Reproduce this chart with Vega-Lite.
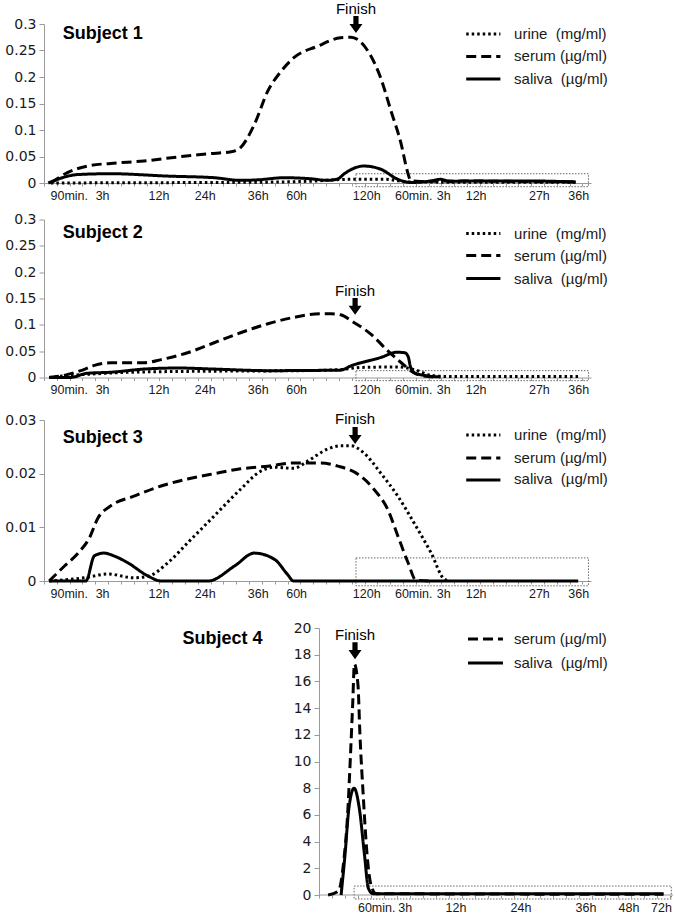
{
  "$schema": "https://vega.github.io/schema/vega-lite/v6.json",
  "padding": {"left": 4, "top": 1, "right": 0, "bottom": 0},
  "background": "white",
  "config": {
    "view": {"stroke": null},
    "axis": {"domainColor": "#9a9a9a", "tickColor": "#9a9a9a", "labelColor": "#1a1a1a", "grid": false, "labelFont": "Liberation Sans", "labelFontSize": 12.5, "title": null, "labelOverlap": false},
    "axisY": {"labelFont": "DejaVu Sans", "labelFontSize": 14, "tickSize": 5, "labelPadding": 3},
    "axisX": {"tickSize": 3, "labelPadding": 3, "labelAngle": 0, "labelFlush": false, "labelBound": false},
    "text": {"font": "Liberation Sans", "color": "#1a1a1a"},
    "rule": {"color": "black", "strokeWidth": 3}
  },
  "datasets": {
    "d": [
      {"p":"p1","s":"urine","t":0.8,"v":0},{"p":"p1","s":"urine","t":10,"v":0.0005},{"p":"p1","s":"urine","t":20,"v":0.001},{"p":"p1","s":"urine","t":28,"v":0.002},{"p":"p1","s":"urine","t":32,"v":0.004},{"p":"p1","s":"urine","t":34,"v":0.006},{"p":"p1","s":"urine","t":36,"v":0.007},{"p":"p1","s":"urine","t":40,"v":0.007},{"p":"p1","s":"urine","t":41.5,"v":0.004},{"p":"p1","s":"urine","t":42.5,"v":0.002},{"p":"p1","s":"urine","t":50,"v":0.0015},{"p":"p1","s":"urine","t":62.3,"v":0.0015},
      {"p":"p1","s":"serum","t":0.8,"v":0},{"p":"p1","s":"serum","t":2.8,"v":0.02},{"p":"p1","s":"serum","t":5.1,"v":0.032},{"p":"p1","s":"serum","t":7.8,"v":0.037},{"p":"p1","s":"serum","t":11.7,"v":0.0415},{"p":"p1","s":"serum","t":15.6,"v":0.049},{"p":"p1","s":"serum","t":19.2,"v":0.055},{"p":"p1","s":"serum","t":22.2,"v":0.06},{"p":"p1","s":"serum","t":22.8,"v":0.064},{"p":"p1","s":"serum","t":24.6,"v":0.11},{"p":"p1","s":"serum","t":26.2,"v":0.174},{"p":"p1","s":"serum","t":27.7,"v":0.21},{"p":"p1","s":"serum","t":29.2,"v":0.236},{"p":"p1","s":"serum","t":32,"v":0.258},{"p":"p1","s":"serum","t":34.7,"v":0.274},{"p":"p1","s":"serum","t":35.9,"v":0.275},{"p":"p1","s":"serum","t":37.9,"v":0.249},{"p":"p1","s":"serum","t":39.4,"v":0.198},{"p":"p1","s":"serum","t":40.6,"v":0.136},{"p":"p1","s":"serum","t":41.8,"v":0.073},{"p":"p1","s":"serum","t":42.5,"v":0.023},{"p":"p1","s":"serum","t":42.9,"v":0.005},{"p":"p1","s":"serum","t":44,"v":0.003},{"p":"p1","s":"serum","t":48,"v":0.004},{"p":"p1","s":"serum","t":55,"v":0.003},{"p":"p1","s":"serum","t":62.3,"v":0.002},
      {"p":"p1","s":"saliva","t":0.5,"v":0},{"p":"p1","s":"saliva","t":4,"v":0.016},{"p":"p1","s":"saliva","t":7.8,"v":0.0175},{"p":"p1","s":"saliva","t":14.5,"v":0.013},{"p":"p1","s":"saliva","t":19.9,"v":0.01},{"p":"p1","s":"saliva","t":23,"v":0.005},{"p":"p1","s":"saliva","t":25,"v":0.006},{"p":"p1","s":"saliva","t":28.1,"v":0.01},{"p":"p1","s":"saliva","t":31.2,"v":0.008},{"p":"p1","s":"saliva","t":33.2,"v":0.005},{"p":"p1","s":"saliva","t":34.4,"v":0.008},{"p":"p1","s":"saliva","t":35.1,"v":0.017},{"p":"p1","s":"saliva","t":37.4,"v":0.032},{"p":"p1","s":"saliva","t":39.4,"v":0.026},{"p":"p1","s":"saliva","t":41.4,"v":0.007},{"p":"p1","s":"saliva","t":42.9,"v":0.001},{"p":"p1","s":"saliva","t":45.3,"v":0.004},{"p":"p1","s":"saliva","t":46.4,"v":0.007},{"p":"p1","s":"saliva","t":47.5,"v":0.003},{"p":"p1","s":"saliva","t":50,"v":0.004},{"p":"p1","s":"saliva","t":56,"v":0.004},{"p":"p1","s":"saliva","t":62.2,"v":0.002},

      {"p":"p2","s":"urine","t":0.6,"v":0},{"p":"p2","s":"urine","t":3,"v":0.004},{"p":"p2","s":"urine","t":6,"v":0.007},{"p":"p2","s":"urine","t":10,"v":0.01},{"p":"p2","s":"urine","t":20,"v":0.012},{"p":"p2","s":"urine","t":30,"v":0.013},{"p":"p2","s":"urine","t":34.7,"v":0.015},{"p":"p2","s":"urine","t":37,"v":0.019},{"p":"p2","s":"urine","t":41.4,"v":0.02},{"p":"p2","s":"urine","t":43.7,"v":0.013},{"p":"p2","s":"urine","t":45.3,"v":0.004},{"p":"p2","s":"urine","t":47,"v":0.002},{"p":"p2","s":"urine","t":55,"v":0.002},{"p":"p2","s":"urine","t":62.5,"v":0.002},
      {"p":"p2","s":"serum","t":0.6,"v":0},{"p":"p2","s":"serum","t":2.6,"v":0.005},{"p":"p2","s":"serum","t":4.3,"v":0.013},{"p":"p2","s":"serum","t":5.9,"v":0.023},{"p":"p2","s":"serum","t":7.8,"v":0.028},{"p":"p2","s":"serum","t":11.7,"v":0.028},{"p":"p2","s":"serum","t":13.7,"v":0.034},{"p":"p2","s":"serum","t":16.8,"v":0.047},{"p":"p2","s":"serum","t":19.9,"v":0.066},{"p":"p2","s":"serum","t":23,"v":0.085},{"p":"p2","s":"serum","t":26.2,"v":0.102},{"p":"p2","s":"serum","t":29.2,"v":0.114},{"p":"p2","s":"serum","t":32.4,"v":0.121},{"p":"p2","s":"serum","t":33.6,"v":0.121},{"p":"p2","s":"serum","t":34.7,"v":0.119},{"p":"p2","s":"serum","t":36.3,"v":0.104},{"p":"p2","s":"serum","t":38.2,"v":0.083},{"p":"p2","s":"serum","t":40.2,"v":0.051},{"p":"p2","s":"serum","t":41.8,"v":0.028},{"p":"p2","s":"serum","t":42.9,"v":0.013},{"p":"p2","s":"serum","t":44.1,"v":0.004},{"p":"p2","s":"serum","t":45.6,"v":0.001},
      {"p":"p2","s":"saliva","t":0.6,"v":0},{"p":"p2","s":"saliva","t":3,"v":0},{"p":"p2","s":"saliva","t":3.5,"v":0.001},{"p":"p2","s":"saliva","t":5,"v":0.008},{"p":"p2","s":"saliva","t":7.8,"v":0.01},{"p":"p2","s":"saliva","t":11.7,"v":0.016},{"p":"p2","s":"saliva","t":15.7,"v":0.018},{"p":"p2","s":"saliva","t":19.9,"v":0.016},{"p":"p2","s":"saliva","t":26.2,"v":0.013},{"p":"p2","s":"saliva","t":34.7,"v":0.014},{"p":"p2","s":"saliva","t":35.9,"v":0.022},{"p":"p2","s":"saliva","t":39.4,"v":0.038},{"p":"p2","s":"saliva","t":41.3,"v":0.048},{"p":"p2","s":"saliva","t":42.2,"v":0.047},{"p":"p2","s":"saliva","t":42.6,"v":0.04},{"p":"p2","s":"saliva","t":42.9,"v":0.019},{"p":"p2","s":"saliva","t":43.3,"v":0.009},{"p":"p2","s":"saliva","t":44.5,"v":0.004},{"p":"p2","s":"saliva","t":46.4,"v":0.001},

      {"p":"p3","s":"urine","t":0.6,"v":0},{"p":"p3","s":"urine","t":4.7,"v":0.0006},{"p":"p3","s":"urine","t":7.5,"v":0.0013},{"p":"p3","s":"urine","t":10.5,"v":0.0006},{"p":"p3","s":"urine","t":12.2,"v":0.0009},{"p":"p3","s":"urine","t":14.5,"v":0.0034},{"p":"p3","s":"urine","t":16.8,"v":0.0071},{"p":"p3","s":"urine","t":19.9,"v":0.0121},{"p":"p3","s":"urine","t":23,"v":0.0171},{"p":"p3","s":"urine","t":25.4,"v":0.0205},{"p":"p3","s":"urine","t":26.9,"v":0.0212},{"p":"p3","s":"urine","t":29.2,"v":0.021},{"p":"p3","s":"urine","t":30.9,"v":0.0224},{"p":"p3","s":"urine","t":33.2,"v":0.0246},{"p":"p3","s":"urine","t":34.7,"v":0.0252},{"p":"p3","s":"urine","t":35.9,"v":0.0252},{"p":"p3","s":"urine","t":37.4,"v":0.0239},{"p":"p3","s":"urine","t":39.4,"v":0.0201},{"p":"p3","s":"urine","t":41.4,"v":0.0158},{"p":"p3","s":"urine","t":43.3,"v":0.0108},{"p":"p3","s":"urine","t":45.3,"v":0.0052},{"p":"p3","s":"urine","t":46.8,"v":0.0004},{"p":"p3","s":"urine","t":47.5,"v":0},
      {"p":"p3","s":"serum","t":0.6,"v":0},{"p":"p3","s":"serum","t":2.4,"v":0.0028},{"p":"p3","s":"serum","t":4,"v":0.0052},{"p":"p3","s":"serum","t":5.3,"v":0.008},{"p":"p3","s":"serum","t":6.3,"v":0.0117},{"p":"p3","s":"serum","t":7.8,"v":0.014},{"p":"p3","s":"serum","t":10.5,"v":0.0158},{"p":"p3","s":"serum","t":13.7,"v":0.0177},{"p":"p3","s":"serum","t":16.8,"v":0.019},{"p":"p3","s":"serum","t":19.9,"v":0.02},{"p":"p3","s":"serum","t":23,"v":0.0209},{"p":"p3","s":"serum","t":26.2,"v":0.0214},{"p":"p3","s":"serum","t":29.2,"v":0.022},{"p":"p3","s":"serum","t":32.4,"v":0.022},{"p":"p3","s":"serum","t":34.4,"v":0.0214},{"p":"p3","s":"serum","t":37,"v":0.0196},{"p":"p3","s":"serum","t":38.6,"v":0.0171},{"p":"p3","s":"serum","t":40.2,"v":0.0134},{"p":"p3","s":"serum","t":41.4,"v":0.0084},{"p":"p3","s":"serum","t":42.6,"v":0.0034},{"p":"p3","s":"serum","t":43.5,"v":0.0002},{"p":"p3","s":"serum","t":45,"v":0},
      {"p":"p3","s":"saliva","t":0.6,"v":0},{"p":"p3","s":"saliva","t":4.9,"v":0},{"p":"p3","s":"saliva","t":5.9,"v":0.0047},{"p":"p3","s":"saliva","t":7,"v":0.0052},{"p":"p3","s":"saliva","t":8.3,"v":0.0046},{"p":"p3","s":"saliva","t":9.8,"v":0.0034},{"p":"p3","s":"saliva","t":12.2,"v":0.0009},{"p":"p3","s":"saliva","t":13.7,"v":0},{"p":"p3","s":"saliva","t":19.2,"v":0},{"p":"p3","s":"saliva","t":22.3,"v":0.0028},{"p":"p3","s":"saliva","t":24.6,"v":0.0052},{"p":"p3","s":"saliva","t":27,"v":0.004},{"p":"p3","s":"saliva","t":28.5,"v":0.0012},{"p":"p3","s":"saliva","t":29.2,"v":0},{"p":"p3","s":"saliva","t":62.5,"v":0},

      {"p":"p4","s":"serum","t":0.7,"v":0},{"p":"p4","s":"serum","t":1.5,"v":0.3},{"p":"p4","s":"serum","t":1.9,"v":2.5},{"p":"p4","s":"serum","t":2.2,"v":6},{"p":"p4","s":"serum","t":2.4,"v":10},{"p":"p4","s":"serum","t":2.6,"v":14.5},{"p":"p4","s":"serum","t":2.72,"v":17.3},{"p":"p4","s":"serum","t":3.0,"v":15.7},{"p":"p4","s":"serum","t":3.15,"v":12},{"p":"p4","s":"serum","t":3.4,"v":7.5},{"p":"p4","s":"serum","t":3.7,"v":3},{"p":"p4","s":"serum","t":4.0,"v":0.75},{"p":"p4","s":"serum","t":4.4,"v":0.1},{"p":"p4","s":"serum","t":26.5,"v":0.05},
      {"p":"p4","s":"saliva","t":1.7,"v":0},{"p":"p4","s":"saliva","t":2.0,"v":3},{"p":"p4","s":"saliva","t":2.3,"v":6.5},{"p":"p4","s":"saliva","t":2.7,"v":8},{"p":"p4","s":"saliva","t":3.1,"v":6.5},{"p":"p4","s":"saliva","t":3.5,"v":3},{"p":"p4","s":"saliva","t":3.8,"v":0.5},{"p":"p4","s":"saliva","t":4.15,"v":0.1},{"p":"p4","s":"saliva","t":26.5,"v":0.1}
    ]
  },
  "resolve": {"scale": {"strokeDash": "independent"}},
  "spacing": 21,
  "vconcat": [
    {
      "spacing": 10.5,
      "resolve": {"scale": {"strokeDash": "independent"}},
      "vconcat": [
        {
          "width": 547, "height": 159,
          "layer": [
            {"data": {"values": [{}]}, "mark": {"type": "rect", "fill": null, "stroke": "#666", "strokeDash": [1.5, 1.5], "strokeWidth": 1},
             "encoding": {"x": {"datum": 36.5, "type": "quantitative", "scale": {"domain": [0, 64], "nice": false}, "axis": {"tickCount": 1000, "labelOverlap": false, "values": [0,1.5,3,4.5,6,7.5,9,10.5,12,13.5,15,16.5,18,19.5,21,22.5,24,25.5,27,28.5,30,31.5,33,34.5,36,37.5,39,40.5,42,43.5,45,46.5,48,49.5,51,52.5,54,55.5,57,58.5,60,61.5,63,2.9,6.8,13.4,18.8,25,29.5,37.7,43.2,46.7,50.5,57.9,62.5], "labelExpr": "indexof([2.9,6.8,13.4,18.8,25,29.5,37.7,43.2,46.7,50.5,57.9,62.5], datum.value) >= 0 ? ['90min.','3h','12h','24h','36h','60h','120h','60min.','3h','12h','27h','36h'][indexof([2.9,6.8,13.4,18.8,25,29.5,37.7,43.2,46.7,50.5,57.9,62.5], datum.value)] : ''", "tickOpacity": {"condition": {"test": "indexof([2.9,6.8,13.4,18.8,25,29.5,37.7,43.2,46.7,50.5,57.9,62.5], datum.value) >= 0", "value": 0}, "value": 1}}},
                          "x2": {"datum": 63.7},
                          "y": {"datum": 0.0175, "type": "quantitative", "scale": {"domain": [0, 0.3], "nice": false}, "axis": {"tickCount": 1000, "labelOverlap": false, "values": [0,0.05,0.1,0.15,0.2,0.25,0.3], "format": ".2~f"}},
                          "y2": {"datum": -0.007}}},
            {"data": {"name": "d"}, "transform": [{"filter": "datum.p == 'p1'"}],
             "mark": {"type": "line", "color": "black", "strokeWidth": 3, "interpolate": "monotone"},
             "encoding": {"x": {"field": "t", "type": "quantitative"}, "y": {"field": "v", "type": "quantitative"},
                          "strokeDash": {"field": "s", "type": "nominal", "legend": null, "scale": {"domain": ["urine", "serum", "saliva"], "range": [[2.5, 3], [10, 5], [1, 0]]}}}},
            {"data": {"values": [{}]}, "mark": {"type": "point", "shape": "M-0.4,-1.3L0.4,-1.3L0.4,-0.1L1,-0.1L0,1.3L-1,-0.1L-0.4,-0.1Z", "filled": true, "color": "black", "opacity": 1, "size": 169},
             "encoding": {"x": {"datum": 36.5, "type": "quantitative"}, "y": {"datum": 0.299, "type": "quantitative"}}},
            {"data": {"values": [{}]}, "mark": {"type": "text", "text": "Finish", "fontSize": 15, "baseline": "middle", "color": "black"},
             "encoding": {"x": {"datum": 36.5, "type": "quantitative"}, "y": {"datum": 0.329, "type": "quantitative"}}},
            {"data": {"values": [{}]}, "mark": {"type": "text", "text": "Subject 1", "fontSize": 18, "fontWeight": "bold", "align": "left", "baseline": "middle", "color": "black"},
             "encoding": {"x": {"datum": 2.2, "type": "quantitative"}, "y": {"datum": 0.281, "type": "quantitative"}}},
            {"data": {"values": [{}]}, "mark": {"type": "rule", "strokeDash": [2.5, 3]}, "encoding": {"x": {"datum": 49.4, "type": "quantitative"}, "x2": {"datum": 53.4}, "y": {"datum": 0.2811, "type": "quantitative"}}},
            {"data": {"values": [{}]}, "mark": {"type": "rule", "strokeDash": [10, 5]}, "encoding": {"x": {"datum": 49.4, "type": "quantitative"}, "x2": {"datum": 53.4}, "y": {"datum": 0.2387, "type": "quantitative"}}},
            {"data": {"values": [{}]}, "mark": {"type": "rule"}, "encoding": {"x": {"datum": 49.4, "type": "quantitative"}, "x2": {"datum": 53.4}, "y": {"datum": 0.1962, "type": "quantitative"}}},
            {"data": {"values": [{}]}, "mark": {"type": "text", "text": "urine\u00a0 (mg/ml)", "fontSize": 15, "align": "left", "baseline": "middle"}, "encoding": {"x": {"datum": 55.0, "type": "quantitative"}, "y": {"datum": 0.2811, "type": "quantitative"}}},
            {"data": {"values": [{}]}, "mark": {"type": "text", "text": "serum (µg/ml)", "fontSize": 15, "align": "left", "baseline": "middle"}, "encoding": {"x": {"datum": 55.0, "type": "quantitative"}, "y": {"datum": 0.2387, "type": "quantitative"}}},
            {"data": {"values": [{}]}, "mark": {"type": "text", "text": "saliva\u00a0 (µg/ml)", "fontSize": 15, "align": "left", "baseline": "middle"}, "encoding": {"x": {"datum": 55.0, "type": "quantitative"}, "y": {"datum": 0.1962, "type": "quantitative"}}}
          ]
        },
        {
          "spacing": 14.5,
          "resolve": {"scale": {"strokeDash": "independent"}},
          "vconcat": [
            {
              "width": 547, "height": 158,
              "layer": [
                {"data": {"values": [{}]}, "mark": {"type": "rect", "fill": null, "stroke": "#666", "strokeDash": [1.5, 1.5], "strokeWidth": 1},
                 "encoding": {"x": {"datum": 36.5, "type": "quantitative", "scale": {"domain": [0, 64], "nice": false}, "axis": {"tickCount": 1000, "labelOverlap": false, "values": [0,1.5,3,4.5,6,7.5,9,10.5,12,13.5,15,16.5,18,19.5,21,22.5,24,25.5,27,28.5,30,31.5,33,34.5,36,37.5,39,40.5,42,43.5,45,46.5,48,49.5,51,52.5,54,55.5,57,58.5,60,61.5,63,2.9,6.8,13.4,18.8,25,29.5,37.7,43.2,46.7,50.5,57.9,62.5], "labelExpr": "indexof([2.9,6.8,13.4,18.8,25,29.5,37.7,43.2,46.7,50.5,57.9,62.5], datum.value) >= 0 ? ['90min.','3h','12h','24h','36h','60h','120h','60min.','3h','12h','27h','36h'][indexof([2.9,6.8,13.4,18.8,25,29.5,37.7,43.2,46.7,50.5,57.9,62.5], datum.value)] : ''", "tickOpacity": {"condition": {"test": "indexof([2.9,6.8,13.4,18.8,25,29.5,37.7,43.2,46.7,50.5,57.9,62.5], datum.value) >= 0", "value": 0}, "value": 1}}},
                              "x2": {"datum": 63.7},
                              "y": {"datum": 0.013, "type": "quantitative", "scale": {"domain": [0, 0.3], "nice": false}, "axis": {"tickCount": 1000, "labelOverlap": false, "values": [0,0.05,0.1,0.15,0.2,0.25,0.3], "format": ".2~f"}},
                              "y2": {"datum": -0.006}}},
                {"data": {"name": "d"}, "transform": [{"filter": "datum.p == 'p2'"}],
                 "mark": {"type": "line", "color": "black", "strokeWidth": 3, "interpolate": "monotone"},
                 "encoding": {"x": {"field": "t", "type": "quantitative"}, "y": {"field": "v", "type": "quantitative"},
                              "strokeDash": {"field": "s", "type": "nominal", "legend": null, "scale": {"domain": ["urine", "serum", "saliva"], "range": [[2.5, 3], [10, 5], [1, 0]]}}}},
                {"data": {"values": [{}]}, "mark": {"type": "point", "shape": "M-0.4,-1.3L0.4,-1.3L0.4,-0.1L1,-0.1L0,1.3L-1,-0.1L-0.4,-0.1Z", "filled": true, "color": "black", "opacity": 1, "size": 169},
                 "encoding": {"x": {"datum": 36.4, "type": "quantitative"}, "y": {"datum": 0.135, "type": "quantitative"}}},
                {"data": {"values": [{}]}, "mark": {"type": "text", "text": "Finish", "fontSize": 15, "baseline": "middle", "color": "black"},
                 "encoding": {"x": {"datum": 36.4, "type": "quantitative"}, "y": {"datum": 0.165, "type": "quantitative"}}},
                {"data": {"values": [{}]}, "mark": {"type": "text", "text": "Subject 2", "fontSize": 18, "fontWeight": "bold", "align": "left", "baseline": "middle", "color": "black"},
                 "encoding": {"x": {"datum": 2.2, "type": "quantitative"}, "y": {"datum": 0.275, "type": "quantitative"}}},
                {"data": {"values": [{}]}, "mark": {"type": "rule", "strokeDash": [2.5, 3]}, "encoding": {"x": {"datum": 49.4, "type": "quantitative"}, "x2": {"datum": 53.4}, "y": {"datum": 0.2734, "type": "quantitative"}}},
                {"data": {"values": [{}]}, "mark": {"type": "rule", "strokeDash": [10, 5]}, "encoding": {"x": {"datum": 49.4, "type": "quantitative"}, "x2": {"datum": 53.4}, "y": {"datum": 0.2316, "type": "quantitative"}}},
                {"data": {"values": [{}]}, "mark": {"type": "rule"}, "encoding": {"x": {"datum": 49.4, "type": "quantitative"}, "x2": {"datum": 53.4}, "y": {"datum": 0.1879, "type": "quantitative"}}},
                {"data": {"values": [{}]}, "mark": {"type": "text", "text": "urine\u00a0 (mg/ml)", "fontSize": 15, "align": "left", "baseline": "middle"}, "encoding": {"x": {"datum": 55.0, "type": "quantitative"}, "y": {"datum": 0.2734, "type": "quantitative"}}},
                {"data": {"values": [{}]}, "mark": {"type": "text", "text": "serum (µg/ml)", "fontSize": 15, "align": "left", "baseline": "middle"}, "encoding": {"x": {"datum": 55.0, "type": "quantitative"}, "y": {"datum": 0.2316, "type": "quantitative"}}},
                {"data": {"values": [{}]}, "mark": {"type": "text", "text": "saliva\u00a0 (µg/ml)", "fontSize": 15, "align": "left", "baseline": "middle"}, "encoding": {"x": {"datum": 55.0, "type": "quantitative"}, "y": {"datum": 0.1879, "type": "quantitative"}}}
              ]
            },
            {
              "width": 547, "height": 161,
              "layer": [
                {"data": {"values": [{}]}, "mark": {"type": "rect", "fill": null, "stroke": "#666", "strokeDash": [1.5, 1.5], "strokeWidth": 1},
                 "encoding": {"x": {"datum": 36.5, "type": "quantitative", "scale": {"domain": [0, 64], "nice": false}, "axis": {"tickCount": 1000, "labelOverlap": false, "values": [0,1.5,3,4.5,6,7.5,9,10.5,12,13.5,15,16.5,18,19.5,21,22.5,24,25.5,27,28.5,30,31.5,33,34.5,36,37.5,39,40.5,42,43.5,45,46.5,48,49.5,51,52.5,54,55.5,57,58.5,60,61.5,63,2.9,6.8,13.4,18.8,25,29.5,37.7,43.2,46.7,50.5,57.9,62.5], "labelExpr": "indexof([2.9,6.8,13.4,18.8,25,29.5,37.7,43.2,46.7,50.5,57.9,62.5], datum.value) >= 0 ? ['90min.','3h','12h','24h','36h','60h','120h','60min.','3h','12h','27h','36h'][indexof([2.9,6.8,13.4,18.8,25,29.5,37.7,43.2,46.7,50.5,57.9,62.5], datum.value)] : ''", "tickOpacity": {"condition": {"test": "indexof([2.9,6.8,13.4,18.8,25,29.5,37.7,43.2,46.7,50.5,57.9,62.5], datum.value) >= 0", "value": 0}, "value": 1}}},
                              "x2": {"datum": 63.7},
                              "y": {"datum": 0.0043, "type": "quantitative", "scale": {"domain": [0, 0.03], "nice": false}, "axis": {"tickCount": 1000, "labelOverlap": false, "values": [0,0.01,0.02,0.03], "format": ".2~f"}},
                              "y2": {"datum": -0.0009}}},
                {"data": {"name": "d"}, "transform": [{"filter": "datum.p == 'p3'"}],
                 "mark": {"type": "line", "color": "black", "strokeWidth": 3, "interpolate": "monotone"},
                 "encoding": {"x": {"field": "t", "type": "quantitative"}, "y": {"field": "v", "type": "quantitative"},
                              "strokeDash": {"field": "s", "type": "nominal", "legend": null, "scale": {"domain": ["urine", "serum", "saliva"], "range": [[2.5, 3], [10, 5], [1, 0]]}}}},
                {"data": {"values": [{}]}, "mark": {"type": "point", "shape": "M-0.4,-1.3L0.4,-1.3L0.4,-0.1L1,-0.1L0,1.3L-1,-0.1L-0.4,-0.1Z", "filled": true, "color": "black", "opacity": 1, "size": 169},
                 "encoding": {"x": {"datum": 36.4, "type": "quantitative"}, "y": {"datum": 0.0271, "type": "quantitative"}}},
                {"data": {"values": [{}]}, "mark": {"type": "text", "text": "Finish", "fontSize": 15, "baseline": "middle", "color": "black"},
                 "encoding": {"x": {"datum": 36.4, "type": "quantitative"}, "y": {"datum": 0.0302, "type": "quantitative"}}},
                {"data": {"values": [{}]}, "mark": {"type": "text", "text": "Subject 3", "fontSize": 18, "fontWeight": "bold", "align": "left", "baseline": "middle", "color": "black"},
                 "encoding": {"x": {"datum": 2.2, "type": "quantitative"}, "y": {"datum": 0.0266, "type": "quantitative"}}},
                {"data": {"values": [{}]}, "mark": {"type": "rule", "strokeDash": [2.5, 3]}, "encoding": {"x": {"datum": 49.4, "type": "quantitative"}, "x2": {"datum": 53.4}, "y": {"datum": 0.0272, "type": "quantitative"}}},
                {"data": {"values": [{}]}, "mark": {"type": "rule", "strokeDash": [10, 5]}, "encoding": {"x": {"datum": 49.4, "type": "quantitative"}, "x2": {"datum": 53.4}, "y": {"datum": 0.0229, "type": "quantitative"}}},
                {"data": {"values": [{}]}, "mark": {"type": "rule"}, "encoding": {"x": {"datum": 49.4, "type": "quantitative"}, "x2": {"datum": 53.4}, "y": {"datum": 0.0188, "type": "quantitative"}}},
                {"data": {"values": [{}]}, "mark": {"type": "text", "text": "urine\u00a0 (mg/ml)", "fontSize": 15, "align": "left", "baseline": "middle"}, "encoding": {"x": {"datum": 55.0, "type": "quantitative"}, "y": {"datum": 0.0272, "type": "quantitative"}}},
                {"data": {"values": [{}]}, "mark": {"type": "text", "text": "serum (µg/ml)", "fontSize": 15, "align": "left", "baseline": "middle"}, "encoding": {"x": {"datum": 55.0, "type": "quantitative"}, "y": {"datum": 0.0229, "type": "quantitative"}}},
                {"data": {"values": [{}]}, "mark": {"type": "text", "text": "saliva\u00a0 (µg/ml)", "fontSize": 15, "align": "left", "baseline": "middle"}, "encoding": {"x": {"datum": 55.0, "type": "quantitative"}, "y": {"datum": 0.019, "type": "quantitative"}}}
              ]
            }
          ]
        }
      ]
    },
    {
      "width": 629, "height": 267,
      "layer": [
        {"data": {"values": [{}]}, "mark": {"type": "rect", "fill": null, "stroke": "#666", "strokeDash": [1.5, 1.5], "strokeWidth": 1},
         "encoding": {"x": {"datum": 2.7, "type": "quantitative", "scale": {"domain": [-21.154, 27.231], "nice": false, "zero": false}, "axis": {"domain": false, "tickCount": 1000, "labelOverlap": false, "values": [0,1,2,3,4,5,6,7,8,9,10,11,12,13,14,15,16,17,18,19,20,21,22,23,24,25,26,27,4.4,6.6,10.5,15.5,20.5,23.8,26.3], "labelExpr": "indexof([4.4,6.6,10.5,15.5,20.5,23.8,26.3], datum.value) >= 0 ? ['60min.','3h','12h','24h','36h','48h','72h'][indexof([4.4,6.6,10.5,15.5,20.5,23.8,26.3], datum.value)] : ''", "tickOpacity": {"condition": {"test": "indexof([4.4,6.6,10.5,15.5,20.5,23.8,26.3], datum.value) >= 0", "value": 0}, "value": 1}}},
                      "x2": {"datum": 27.1},
                      "y": {"datum": 0.67, "type": "quantitative", "scale": {"domain": [0, 20], "nice": false}, "axis": {"tickCount": 1000, "labelOverlap": false, "format": "d", "values": [0,2,4,6,8,10,12,14,16,18,20], "offset": -275}},
                      "y2": {"datum": -0.3}}},
        {"data": {"values": [{}]}, "mark": {"type": "rule", "color": "#9a9a9a", "strokeWidth": 1},
         "encoding": {"x": {"datum": 0, "type": "quantitative"}, "x2": {"datum": 27.231}, "y": {"datum": 0, "type": "quantitative"}}},
        {"data": {"name": "d"}, "transform": [{"filter": "datum.p == 'p4'"}],
         "mark": {"type": "line", "color": "black", "strokeWidth": 3, "interpolate": "monotone"},
         "encoding": {"x": {"field": "t", "type": "quantitative"}, "y": {"field": "v", "type": "quantitative"},
                      "strokeDash": {"field": "s", "type": "nominal", "legend": null, "scale": {"domain": ["serum", "saliva"], "range": [[10, 5], [1, 0]]}}}},
        {"data": {"values": [{}]}, "mark": {"type": "point", "shape": "M-0.4,-1.3L0.4,-1.3L0.4,-0.1L1,-0.1L0,1.3L-1,-0.1L-0.4,-0.1Z", "filled": true, "color": "black", "opacity": 1, "size": 169},
         "encoding": {"x": {"datum": 2.77, "type": "quantitative"}, "y": {"datum": 18.3, "type": "quantitative"}}},
        {"data": {"values": [{}]}, "mark": {"type": "text", "text": "Finish", "fontSize": 15, "baseline": "middle", "color": "black"},
         "encoding": {"x": {"datum": 2.77, "type": "quantitative"}, "y": {"datum": 19.5, "type": "quantitative"}}},
        {"data": {"values": [{}]}, "mark": {"type": "text", "text": "Subject 4", "fontSize": 18, "fontWeight": "bold", "align": "left", "baseline": "middle", "color": "black"},
         "encoding": {"x": {"datum": -10.5, "type": "quantitative"}, "y": {"datum": 19.2, "type": "quantitative"}}},
        {"data": {"values": [{}]}, "mark": {"type": "rule", "strokeDash": [10, 5]}, "encoding": {"x": {"datum": 11.46, "type": "quantitative"}, "x2": {"datum": 14.15}, "y": {"datum": 19.18, "type": "quantitative"}}},
        {"data": {"values": [{}]}, "mark": {"type": "rule"}, "encoding": {"x": {"datum": 11.46, "type": "quantitative"}, "x2": {"datum": 14.15}, "y": {"datum": 17.38, "type": "quantitative"}}},
        {"data": {"values": [{}]}, "mark": {"type": "text", "text": "serum (µg/ml)", "fontSize": 15, "align": "left", "baseline": "middle"}, "encoding": {"x": {"datum": 15.0, "type": "quantitative"}, "y": {"datum": 19.18, "type": "quantitative"}}},
        {"data": {"values": [{}]}, "mark": {"type": "text", "text": "saliva\u00a0 (µg/ml)", "fontSize": 15, "align": "left", "baseline": "middle"}, "encoding": {"x": {"datum": 15.0, "type": "quantitative"}, "y": {"datum": 17.38, "type": "quantitative"}}}
      ]
    }
  ]
}
